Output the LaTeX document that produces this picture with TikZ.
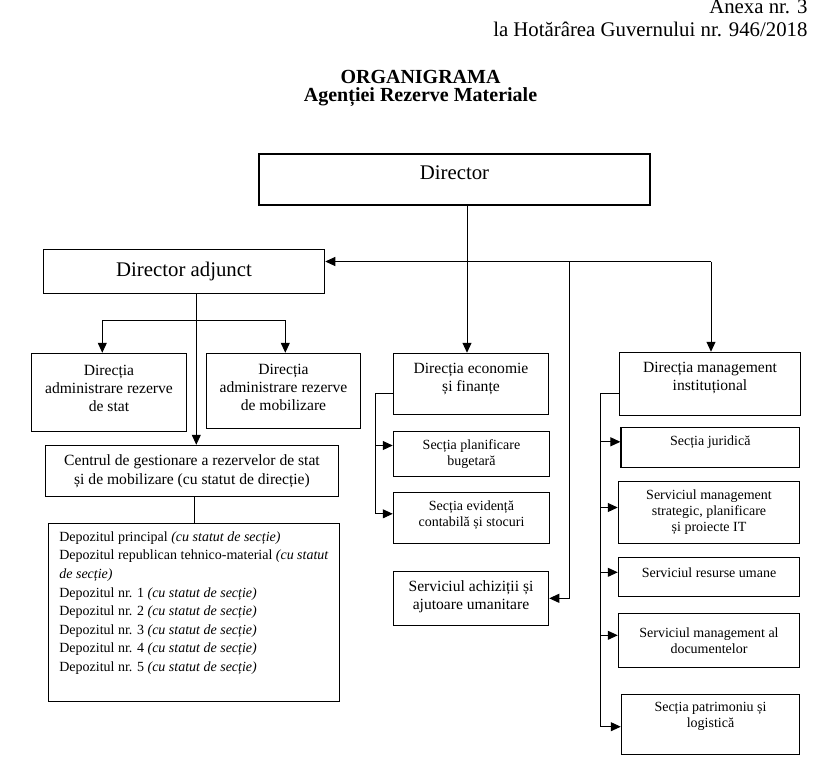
\documentclass[tikz,border=0pt]{standalone}
\usepackage{fontspec}
\setmainfont{Liberation Serif}
\usetikzlibrary{arrows.meta,positioning}

\tikzset{
  box/.style={draw, line width=1.1pt, align=center, inner sep=0pt},
  big/.style={font=\fontsize{20.8}{24}\selectfont},
  mid/.style={font=\fontsize{15.6}{18}\selectfont},
  small/.style={font=\fontsize{14}{16}\selectfont},
  link/.style={line width=1pt},
  arr/.style={line width=1pt, -{Triangle[length=10pt,width=9pt]}},
}

\begin{document}
\begin{tikzpicture}[x=1pt,y=-1pt]
\useasboundingbox (0,0) rectangle (832,764);

% antet
\node[big, anchor=base east] (anexa) at (811,13.8) {Anexa nr. 3};
\node[big, anchor=base east] (hot) at (811,36.5) {la Hotărârea Guvernului nr. 946/2018};
\node[font=\fontsize{20}{22}\bfseries\selectfont, anchor=base] (titlu) at (420.5,83.3) {ORGANIGRAMA};
\node[font=\fontsize{20}{22}\bfseries\selectfont, anchor=base] (subtitlu) at (420.5,101.7) {Agenției Rezerve Materiale};

% conducere
\node[box, big, minimum width=391pt, minimum height=51pt, text height=10pt, text depth=10pt] (dir) at (454.5,179.5) {Director};
\node[box, big, minimum width=281.4pt, minimum height=44pt] (adj) at (184,271.3) {Director adjunct};

% ramura directorului adjunct
\node[box, mid, minimum width=155.4pt, minimum height=78pt, text depth=8.6pt] (stat) at (109,392.3) {Direcția\\administrare rezerve\\de stat};
\node[box, mid, minimum width=154.4pt, minimum height=75pt, text depth=6pt] (mob) at (283.5,390.8) {Direcția\\administrare rezerve\\de mobilizare};
\node[box, font=\fontsize{15.6}{19}\selectfont, minimum width=293.4pt, minimum height=51pt] (centru) at (192,470.8) {Centrul de gestionare a rezervelor de stat\\și de mobilizare (cu statut de direcție)};
\node[box, align=left, font=\fontsize{14}{18.6}\selectfont, minimum width=291.4pt, minimum height=178pt, text depth=21.6pt] (depoz) at (194,612.3) {Depozitul principal \textit{(cu statut de secție)}\\
Depozitul republican tehnico-material \textit{(cu statut}\\
\textit{de secție)}\\
Depozitul nr. 1 \textit{(cu statut de secție)}\\
Depozitul nr. 2 \textit{(cu statut de secție)}\\
Depozitul nr. 3 \textit{(cu statut de secție)}\\
Depozitul nr. 4 \textit{(cu statut de secție)}\\
Depozitul nr. 5 \textit{(cu statut de secție)}};

% ramura economica
\node[box, mid, minimum width=155.4pt, minimum height=61pt, text depth=13pt] (econ) at (471,383.8) {Direcția economie\\și finanțe};
\node[box, small, minimum width=156.4pt, minimum height=44.6pt] (planif) at (471.5,454) {Secția planificare\\bugetară};
\node[box, small, minimum width=156.4pt, minimum height=51pt, text depth=9pt] (evid) at (471.5,517.8) {Secția evidență\\contabilă și stocuri};
\node[box, mid, minimum width=155.4pt, minimum height=54pt, text depth=7pt] (achiz) at (471,598.3) {Serviciul achiziții și\\ajutoare umanitare};

% ramura management
\node[box, mid, minimum width=181.4pt, minimum height=63pt, text depth=15pt] (mgmt) at (710,383.8) {Direcția management\\instituțional};
\node[box, small, minimum width=178.7pt, minimum height=40pt, text depth=13pt] (jur) at (710.3,447.3) {Secția juridică};
\node[box, small, minimum width=181.4pt, minimum height=61.6pt] (strat) at (709,512.5) {Serviciul management\\strategic, planificare\\și proiecte IT};
\node[box, small, minimum width=181.4pt, minimum height=39pt, text depth=9pt] (resurse) at (709,576.8) {Serviciul resurse umane};
\node[box, small, minimum width=181.4pt, minimum height=54pt] (doc) at (709,640.3) {Serviciul management al\\documentelor};
\node[box, small, minimum width=178.4pt, minimum height=60pt, text depth=19pt] (patr) at (710.5,724.3) {Secția patrimoniu și\\logistică};

% legaturi
\coordinate (nod) at (467,261.5);
\coordinate (ramA) at (569,261.5);
\coordinate (ramD) at (711,261.5);
\draw[arr] (dir.south -| nod) -- (econ.north -| nod);
\draw[arr] (ramD) -- (adj.east |- nod);
\draw[arr] (ramD) -- (mgmt.north -| ramD);
\draw[arr] (ramA) |- (achiz.east);

\coordinate (furca) at (196.3,320.3);
\coordinate (furcaS) at (102.3,320.3);
\coordinate (furcaM) at (285.3,320.3);
\draw[arr] (adj.south -| furca) -- (centru.north -| furca);
\draw[arr] (furcaM) -- (furcaS) -- (stat.north -| furcaS);
\draw[arr] (furcaM) -- (mob.north -| furcaM);
\draw[link] (centru.south -| depoz.north) -- (depoz.north);

\coordinate (econL) at (375.7,393.3);
\draw[link] (econ.west |- econL) -- (econL);
\draw[arr] (econL) |- ([yshift=8.5pt]planif.west);
\draw[arr] (econL) |- ([yshift=4pt]evid.west);

\coordinate (mgmtL) at (600.5,393.3);
\draw[link] (mgmt.west |- mgmtL) -- (mgmtL);
\foreach \b/\s in {jur/5.5, strat/5, resurse/4.5, doc/5, patr/-2.4}
  \draw[arr] (mgmtL) |- ([yshift=\s pt]\b.west);

\end{tikzpicture}
\end{document}
